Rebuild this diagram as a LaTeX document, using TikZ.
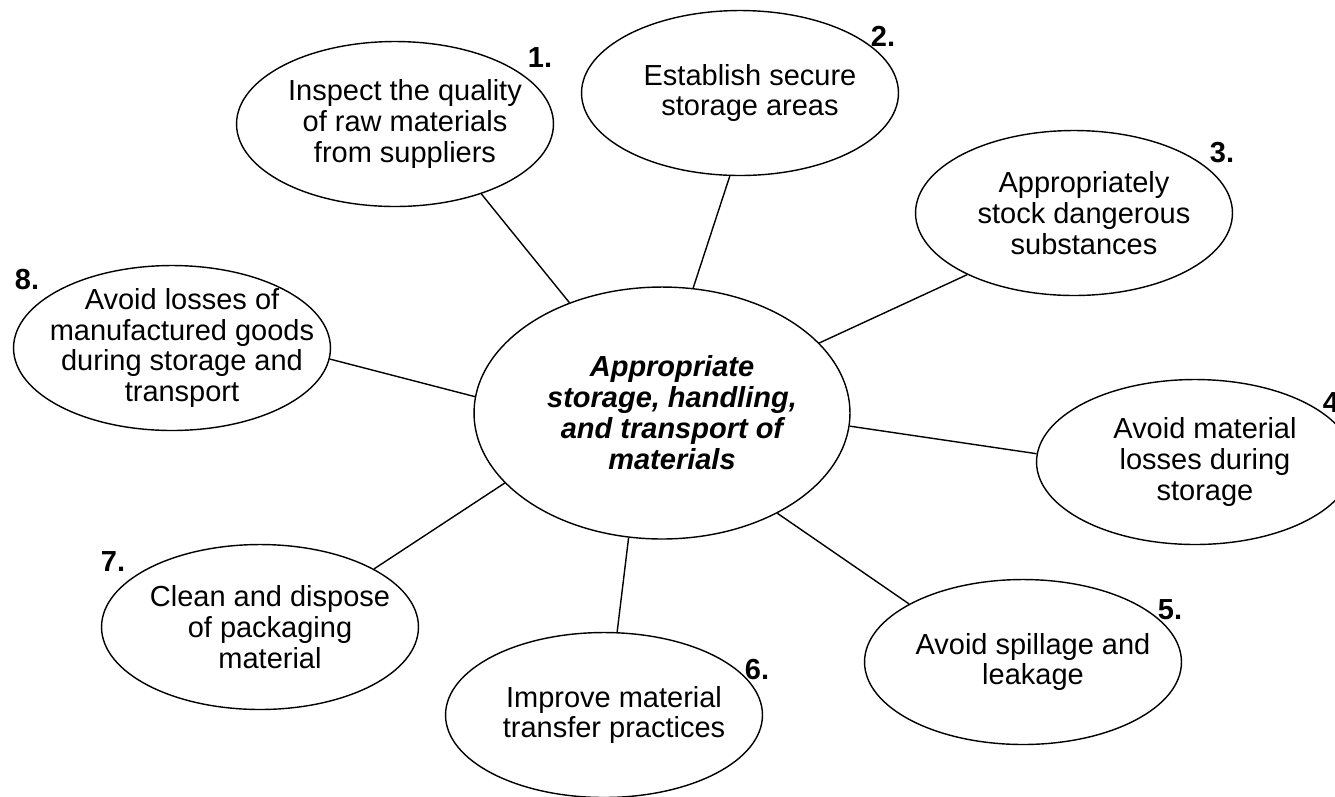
\documentclass[tikz,border=0pt]{standalone}
\usepackage{fontspec}
\setmainfont{Liberation Sans}
\usetikzlibrary{shapes.geometric}

\newcommand{\goalfont}{\fontsize{16.5}{17.6}\selectfont}

\tikzset{
  goal/.style={ellipse, draw, line width=0.8pt, minimum width=6.34cm, minimum height=3.3cm, inner sep=0pt},
  goaltext/.style={align=center, font=\goalfont, xshift=0.2cm},
  num/.style={font=\goalfont\bfseries, inner sep=0pt},
  link/.style={line width=0.8pt}
}

\begin{document}
\begin{tikzpicture}[x=0.02cm, y=-0.02cm]
  \useasboundingbox (0,0) rectangle (1335,796);

  % Central topic
  \node[goal, minimum width=7.52cm, minimum height=5.04cm] (c) at (662,413) {};
  \node[goaltext, font=\goalfont\bfseries\itshape] (ct) at (c) {Appropriate\\storage, handling,\\and transport of\\materials};

  % Eight measures round it
  \node[goal] (g1) at (395,124) {};
  \node[goal] (g2) at (740,93) {};
  \node[goal] (g3) at (1074,213) {};
  \node[goal] (g4) at (1195,462) {};
  \node[goal] (g5) at (1023,662) {};
  \node[goal] (g6) at (604,715) {};
  \node[goal] (g7) at (260,627) {};
  \node[goal] (g8) at (172,348) {};

  \node[goaltext] (t1) at (g1) {Inspect the quality\\of raw materials\\from suppliers};
  \node[goaltext] (t2) at (g2) {Establish secure\\storage areas};
  \node[goaltext] (t3) at (g3) {Appropriately\\stock dangerous\\substances};
  \node[goaltext] (t4) at (g4) {Avoid material\\losses during\\storage};
  \node[goaltext] (t5) at (g5) {Avoid spillage and\\leakage};
  \node[goaltext] (t6) at (g6) {Improve material\\transfer practices};
  \node[goaltext] (t7) at (g7) {Clean and dispose\\of packaging\\material};
  \node[goaltext] (t8) at (g8) {Avoid losses of\\manufactured goods\\during storage and\\transport};

  % Spokes from the centre
  \foreach \i/\from/\to in {1/130/321, 2/76/263, 3/24/210, 4/356/177, 5/319/153, 6/255/81, 7/204/27, 8/175/356}
    \draw[link] (c.\from) -- (g\i.\to);

  % Numbers
  \foreach \i/\pos in {1/{(540,58)}, 2/{(883,36)}, 3/{(1222,153)}, 4/{(1335,403)}, 5/{(1170,610)}, 6/{(757,670)}, 7/{(113,562)}, 8/{(27,280)}}
    \node[num] (n\i) at \pos {\i.};
\end{tikzpicture}
\end{document}
